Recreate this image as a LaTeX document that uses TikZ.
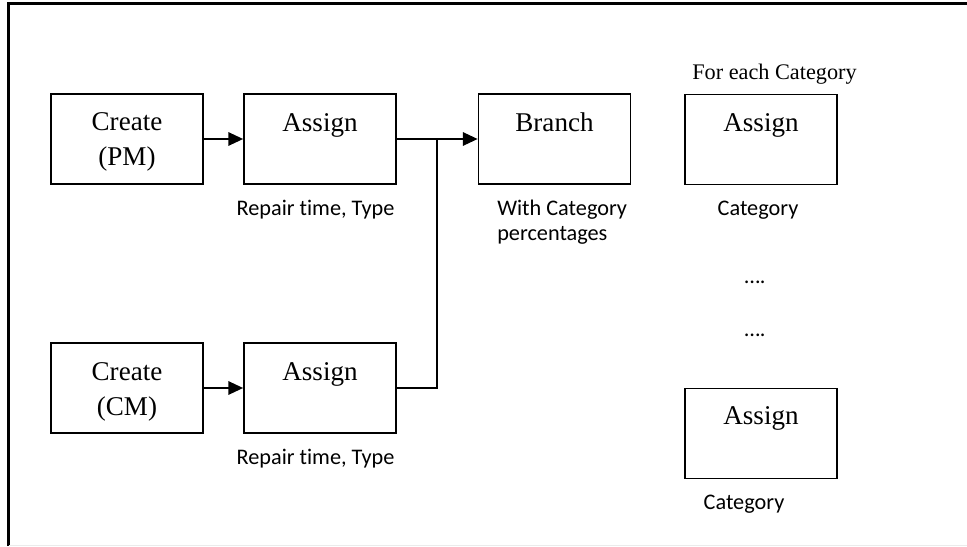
\documentclass[tikz,border=0pt]{standalone}
\usepackage{fontspec}
\setmainfont{Liberation Serif}
\newfontfamily\calfont[Ligatures=CommonOff]{Carlito}
\usetikzlibrary{arrows.meta}

\begin{document}
\begin{tikzpicture}[x=0.75pt,y=-0.75pt,
  box/.style={draw, line width=1.3pt, minimum width=114pt, minimum height=67.5pt, inner sep=0pt},
  boxtext/.style={font=\fontsize{20.3}{24}\selectfont, inner sep=0pt, anchor=base},
  note/.style={font=\calfont\fontsize{16.7}{20}\selectfont, inner sep=0pt, anchor=base},
  notewest/.style={note, anchor=base west},
  serifnote/.style={font=\fontsize{16.7}{20}\selectfont, inner sep=0pt, anchor=base west},
  flow/.style={line width=1.3pt, -{Triangle[length=11pt,width=10pt]}},
  link/.style={line width=1.3pt}]

\useasboundingbox (0,0) rectangle (967,546);

% outer frame
\draw[line width=1.6pt] (8.5,546) -- (8.5,3.5) -- (967,3.5);
\draw[black!8, line width=0.75pt] (8.5,545.5) -- (967,545.5);

% PM row
\node[box] (cpm) at (127,139) {};
\node[boxtext] (cpmA) at (127,130) {Create};
\node[boxtext] (cpmB) at (127,165) {(PM)};
\node[box] (apm) at (320,139) {};
\node[boxtext] (apmT) at (320,131) {Assign};
\node[note] (apmN) at (315.5,215) {Repair time, Type};

% branch
\node[box] (branch) at (554.5,139) {};
\node[boxtext] (branchT) at (554.5,131) {Branch};
\node[notewest] (brN1) at (497,215) {With Category};
\node[notewest] (brN2) at (497,240) {percentages};

% CM row
\node[box] (ccm) at (127,388) {};
\node[boxtext] (ccmA) at (127,380) {Create};
\node[boxtext] (ccmB) at (127,415) {(CM)};
\node[box] (acm) at (320,388) {};
\node[boxtext] (acmT) at (320,380) {Assign};
\node[note] (acmN) at (315.5,464) {Repair time, Type};

% category assigns
\node[serifnote] (each) at (692,79) {For each Category};
\node[box] (cat1) at (761,139.5) {};
\node[boxtext] (cat1T) at (761,131) {Assign};
\node[note] (cat1N) at (758,215) {Category};
\node[note] (dots1) at (755,283) {….};
\node[note] (dots2) at (755,336) {….};
\node[box] (cat2) at (761,433.5) {};
\node[boxtext] (cat2T) at (761,424) {Assign};
\node[note] (cat2N) at (744,509) {Category};

% connectors
\coordinate (join) at (437,139);
\draw[flow] (cpm) -- (apm);
\draw[flow] (apm) -- (branch);
\draw[flow] (ccm) -- (acm);
\draw[link] (acm.east) -| (join);
\end{tikzpicture}
\end{document}
